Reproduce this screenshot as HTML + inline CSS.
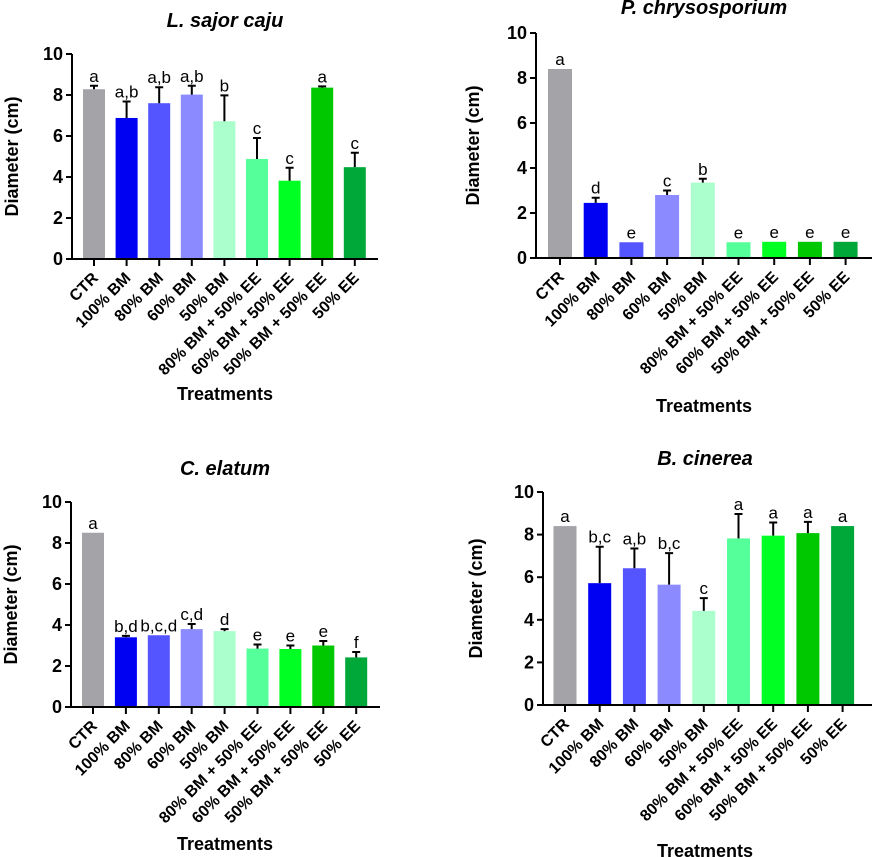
<!DOCTYPE html>
<html><head><meta charset="utf-8"><style>
html,body{margin:0;padding:0;background:#fff;}
svg{display:block;font-family:"Liberation Sans",Arial,sans-serif;}
</style></head><body>
<svg id="fig" width="872" height="857" viewBox="0 0 872 857" xmlns="http://www.w3.org/2000/svg"></svg>
<script>
const categories = ["CTR","100% BM","80% BM","60% BM","50% BM","80% BM + 50% EE","60% BM + 50% EE","50% BM + 50% EE","50% EE"];
const colors = ["#a3a3a8","#0000f2","#5555ff","#8b8bff","#aaffcc","#55ff99","#00ff22","#00c800","#00a83a"];
const yTicks = [0,2,4,6,8,10];
const lsValues = [8.28,6.88,7.6,8.02,6.72,4.88,3.82,8.36,4.48];
const lsErr = [8.45,7.68,8.38,8.45,7.98,5.9,4.45,8.42,5.18];
const lsLetters = ["a","a,b","a,b","a,b","b","c","c","a","c"];
const pcValues = [8.4,2.45,0.7,2.8,3.35,0.7,0.72,0.72,0.72];
const pcErr = [8.4,2.68,0.7,3.0,3.52,0.7,0.72,0.72,0.72];
const pcLetters = ["a","d","e","c","b","e","e","e","e"];
const ceValues = [8.5,3.4,3.5,3.8,3.7,2.85,2.83,3.0,2.42];
const ceErr = [8.5,3.47,3.5,4.05,3.8,3.05,3.0,3.22,2.68];
const ceLetters = ["a","b,d","b,c,d","c,d","d","e","e","e","f"];
const bcValues = [8.4,5.72,6.42,5.65,4.42,7.82,7.95,8.07,8.4];
const bcErr = [8.4,7.43,7.35,7.13,5.02,8.97,8.57,8.6,8.4];
const bcLetters = ["a","b,c","a,b","b,c","c","a","a","a","a"];

const svg = document.getElementById('fig');
const NS = "http://www.w3.org/2000/svg";
function mk(tag, attrs, parent){const e=document.createElementNS(NS,tag);for(const k in attrs)e.setAttribute(k,attrs[k]);parent.appendChild(e);return e;}

function panel(p){
  const g = mk('g',{},svg);
  
  
  const y = v => p.y0 - (p.y0 - p.y10) * v / 10;
  const x = i => p.x0c + i * p.step;
  const t = mk('text',{x:p.tx,y:p.ty,'text-anchor':'middle','font-size':20,'font-weight':'bold','font-style':'italic',fill:'#000'},g);
  t.textContent = p.title;
  
  
  const yl = mk('text',{x:0,y:0,transform:`translate(${p.ylx},${(p.y0+p.y10)/2}) rotate(-90)`,'text-anchor':'middle','font-size':18,'font-weight':'bold'},g);
  yl.textContent = "Diameter (cm)";
  
  
  const xl = mk('text',{x:p.tx,y:p.xly,'text-anchor':'middle','font-size':18,'font-weight':'bold'},g);
  xl.textContent = "Treatments";
  
  
  p.values.forEach((v,i)=>{
    const r = mk('rect',{x:x(i)-p.bw/2,y:y(v),width:p.bw,height:p.y0-y(v),fill:colors[i]},g);
    
    
    const top = p.err[i];
    if (top > v + 0.02) {
      const eb = mk('path',{d:`M${x(i)} ${y(v)} V${y(top)} M${x(i)-4} ${y(top)} H${x(i)+4}`,stroke:'#000','stroke-width':2,fill:'none'},g);
      
      
    }
    const lt = mk('text',{x:x(i),y:y(Math.max(top,v))-4,'text-anchor':'middle','font-size':17,fill:'#000'},g);
    lt.textContent = p.letters[i];
    
    
    mk('line',{x1:x(i),y1:p.y0,x2:x(i),y2:p.y0+7,stroke:'#000','stroke-width':2},g);
    const cl = mk('text',{x:0,y:0,transform:`translate(${x(i)+5},${p.y0+20}) rotate(-45)`,'text-anchor':'end','font-size':16,'font-weight':'bold'},g);
    cl.textContent = categories[i];
    
    
  });
  mk('line',{x1:p.ax,y1:p.y10,x2:p.ax,y2:p.y0+1,stroke:'#000','stroke-width':2},g);
  mk('line',{x1:p.ax-6,y1:p.y0,x2:p.xend,y2:p.y0,stroke:'#000','stroke-width':2},g);
  yTicks.forEach(v=>{
    mk('line',{x1:p.ax-6,y1:y(v),x2:p.ax,y2:y(v),stroke:'#000','stroke-width':2},g);
    const tl = mk('text',{x:p.ax-9,y:y(v)+6,'text-anchor':'end','font-size':18,'font-weight':'bold'},g);
    tl.textContent = v;
    
    
  });
}

panel({id:'l-sajor-caju',title:'L. sajor caju',values:lsValues,err:lsErr,letters:lsLetters,
  ax:72,y0:259,y10:54,x0c:94,step:32.6,bw:22,xend:378,tx:225,ty:27,ylx:18,xly:400});
panel({id:'p-chrysosporium',title:'P. chrysosporium',values:pcValues,err:pcErr,letters:pcLetters,
  ax:536,y0:258,y10:33,x0c:560,step:35.7,bw:24,xend:872,tx:704,ty:14,ylx:479,xly:412});
panel({id:'c-elatum',title:'C. elatum',values:ceValues,err:ceErr,letters:ceLetters,
  ax:71,y0:707,y10:502,x0c:93,step:32.9,bw:22,xend:380,tx:225,ty:475,ylx:17,xly:850});
panel({id:'b-cinerea',title:'B. cinerea',values:bcValues,err:bcErr,letters:bcLetters,
  ax:543,y0:705,y10:492,x0c:565,step:34.7,bw:23,xend:872,tx:705,ty:465,ylx:482,xly:857});
</script>
</body></html>
